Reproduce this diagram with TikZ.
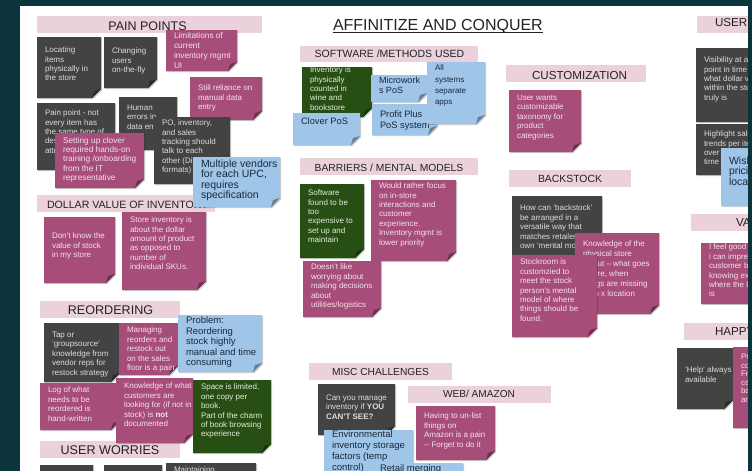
\documentclass[tikz,border=0pt]{standalone}
\usepackage{fontspec}
\setmainfont{Liberation Sans}
\definecolor{bgteal}{HTML}{0C343D}
\definecolor{gnote}{HTML}{434343}
\definecolor{mnote}{HTML}{A64D79}
\definecolor{bnote}{HTML}{9FC5E8}
\definecolor{vnote}{HTML}{274E13}
\definecolor{hpink}{HTML}{EAD1DC}
\definecolor{gtext}{HTML}{DCDCDC}
\definecolor{mtext}{HTML}{F6E2EC}
\definecolor{btext}{HTML}{1C2A3A}
\definecolor{vtext}{HTML}{E4EEDC}
\definecolor{htxt}{HTML}{222222}
\tikzset{
  ntext/.style={inner sep=0pt, outer sep=0pt, align=left, anchor=north west, font=\fontsize{8}{9.4}\selectfont},
  tg/.style={ntext, text=gtext},
  tm/.style={ntext, text=mtext},
  tb/.style={ntext, text=btext},
  tv/.style={ntext, text=vtext},
  f83/.style={font=\fontsize{8.3}{9.4}\selectfont},
  f85l/.style={font=\fontsize{8.3}{10}\selectfont},
  f9/.style={font=\fontsize{9}{10}\selectfont},
  f93/.style={font=\fontsize{9.3}{10.7}\selectfont},
  f95/.style={font=\fontsize{9.5}{10.5}\selectfont},
  f95e/.style={font=\fontsize{9.5}{10.8}\selectfont},
  f105/.style={font=\fontsize{10.5}{10.3}\selectfont},
  fall/.style={font=\fontsize{8}{11.3}\selectfont},
  f8b/.style={font=\fontsize{8}{10}\selectfont},
  f8s/.style={font=\fontsize{8}{8.6}\selectfont},
  hbar/.style={fill=hpink},
  htext/.style={inner sep=0pt, outer sep=0pt, text=htxt},
}
% sticky note: name, colour, x1, y1, x2, y2, text top y, text style, text
\newcommand\snote[9]{%
  \pgfmathsetmacro\nfx{#5-9}%
  \pgfmathsetmacro\nfy{#6-9}%
  \fill[black,opacity=.2] (#3+1.2,#4+1.2) -- (#5+1.2,#4+1.2) -- (#5+1.2,\nfy+1.2) -- (\nfx+1.2,#6+1.2) -- (#3+1.2,#6+1.2) -- cycle;
  \fill[#2] (#3,#4) -- (#5,#4) -- (#5,\nfy) -- (\nfx,#6) -- (#3,#6) -- cycle;
  \fill[#2!65!black] (#5,\nfy) -- (\nfx,#6) -- (\nfx+2,\nfy+2) -- cycle;
  \node[#8] (#1) at (#3+8,#7) {#9};
}
\begin{document}
\begin{tikzpicture}[x=1pt,y=-1pt]
\useasboundingbox (0,0) rectangle (752,471);
\clip (0,0) rectangle (752,471);
\fill[bgteal] (0,0) rectangle (752,471);
\fill[white] (20,6) rectangle (752,471);

% ---------- headings ----------
\fill[hbar] (37,16) rectangle (262,33);
\node[htext, font=\fontsize{12.5}{14}\selectfont, anchor=base] (hpain) at (147.5,30) {PAIN POINTS};
\fill[hbar] (37,195) rectangle (215,212);
\node[htext, font=\fontsize{10.6}{12}\selectfont, anchor=base west] (hdollar) at (47,208) {DOLLAR VALUE OF INVENTORY};
\fill[hbar] (40,301) rectangle (180,318);
\node[htext, font=\fontsize{12.6}{14}\selectfont, anchor=base] (hreorder) at (110.5,314) {REORDERING};
\fill[hbar] (40,441) rectangle (180,458);
\node[htext, font=\fontsize{12.6}{14}\selectfont, anchor=base] (hworries) at (110,454) {USER WORRIES};

\node[htext, font=\fontsize{16}{18}\selectfont, anchor=base west] (title) at (333,30) {AFFINITIZE AND CONQUER};
\draw[htxt, line width=0.9pt] ([yshift=-2.6pt]title.base west) -- ([yshift=-2.6pt]title.base east);

\fill[hbar] (300,46) rectangle (478,62);
\node[htext, font=\fontsize{10.5}{12}\selectfont, anchor=base] (hsoft) at (389.5,57.3) {SOFTWARE /METHODS USED};
\fill[hbar] (300,158) rectangle (478,175);
\node[htext, font=\fontsize{10.3}{12}\selectfont, anchor=base] (hbarr) at (389,171.5) {BARRIERS / MENTAL MODELS};
\fill[hbar] (309,363) rectangle (452,380);
\node[htext, font=\fontsize{10.2}{12}\selectfont, anchor=base] (hmisc) at (380.5,375) {MISC CHALLENGES};
\fill[hbar] (408,386) rectangle (551,403);
\node[htext, font=\fontsize{10.1}{12}\selectfont, anchor=base] (hweb) at (479,397.5) {WEB/ AMAZON};
\fill[hbar] (506,65) rectangle (646,82);
\node[htext, font=\fontsize{11.6}{13}\selectfont, anchor=base] (hcust) at (579.5,79) {CUSTOMIZATION};
\fill[hbar] (509,170) rectangle (631,187);
\node[htext, font=\fontsize{10.4}{12}\selectfont, anchor=base] (hback) at (570,182) {BACKSTOCK};
\fill[hbar] (697,16) rectangle (760,33);
\node[htext, font=\fontsize{11.6}{13}\selectfont, anchor=base west] (huser) at (715,27) {USER NEEDS};
\fill[hbar] (691,214) rectangle (760,231);
\node[htext, font=\fontsize{11.6}{13}\selectfont, anchor=base west] (hval) at (736,226) {VALUES};
\fill[hbar] (684,323) rectangle (760,340);
\node[htext, font=\fontsize{11.6}{13}\selectfont, anchor=base west] (hhappy) at (715,335) {HAPPY};

% ---------- pain points ----------
\snote{locating}{gnote}{37}{37}{101}{98}{47}{tg}{Locating\\items\\physically in\\the store}
\snote{changing}{gnote}{104}{37}{157}{88}{48}{tg}{Changing\\users\\on-the-fly}
\snote{limits}{mnote}{166}{30}{237}{71}{32}{tm,f85l}{Limitations of\\current\\inventory mgmt\\UI}
\snote{reliance}{mnote}{190}{77}{262}{120}{85}{tm}{Still reliance on\\manual data\\entry}
\snote{painpt}{gnote}{37}{103}{115}{170}{110}{tg}{Pain point - not\\every item has\\the same type of\\descriptive\\attributes}
\snote{human}{gnote}{119}{97}{177}{150}{105}{tg}{Human\\errors in\\data entry}
\snote{po}{gnote}{154}{117}{230}{184}{120}{tg}{PO, inventory,\\and sales\\tracking should\\talk to each\\other (Different\\formats)}
\snote{setup}{mnote}{55}{133}{144}{188}{137}{tm,f83}{Setting up clover\\required hands-on\\training /onboarding\\from the IT\\representative}
\snote{vendors}{bnote}{193}{157}{280}{207}{160}{tb,f105}{Multiple vendors\\for each UPC,\\requires\\specification}

% ---------- dollar value ----------
\snote{dontknow}{mnote}{44}{217}{115}{283}{233}{tm}{Don't know the\\value of stock\\in my store}
\snote{storeinv}{mnote}{122}{212}{206}{290}{217}{tm}{Store inventory is\\about the dollar\\amount of product\\as opposed to\\number of\\individual SKUs.}

% ---------- reordering ----------
\snote{tap}{gnote}{44}{323}{120}{382}{332}{tg}{Tap or\\`groupsource'\\knowledge from\\vendor reps for\\restock strategy}
\snote{managing}{mnote}{119}{323}{178}{375}{327}{tm}{Managing\\reorders and\\restock out\\on the sales\\floor is a pain}
\snote{problem}{bnote}{178}{315}{262}{372}{317}{tb,f95}{Problem:\\Reordering\\stock highly\\manual and time\\consuming}
\snote{logw}{mnote}{40}{383}{120}{430}{387}{tm}{Log of what\\needs to be\\reordered is\\hand-written}
\snote{knowwhat}{mnote}{116}{378}{193}{443}{383}{tm}{Knowledge of what\\customers are\\looking for (if not in\\stock) is \textbf{not}\\documented}
\snote{space}{vnote}{193}{380}{271}{453}{384}{tv}{Space is limited,\\one copy per\\book.\\Part of the charm\\of book browsing\\experience}

% ---------- user worries ----------
\snote{uwa}{gnote}{40}{465}{93}{500}{470}{tg}{}
\snote{uwb}{gnote}{104}{465}{162}{500}{470}{tg}{}
\snote{uwc}{gnote}{166}{463}{256}{500}{467}{tg}{Maintaining}

% ---------- software ----------
\snote{counted}{vnote}{302}{67}{372}{117}{67}{tv}{Inventory is\\physically\\counted in\\wine and\\bookstore}
\snote{cloverpos}{bnote}{293}{113}{360}{145}{118}{tb,f93}{Clover PoS}
\snote{microworks}{bnote}{371}{75}{427}{102}{77}{tb,f9}{Microwork\\s PoS}
\snote{profit}{bnote}{372}{104}{437}{135}{111}{tb,f93}{Profit Plus\\PoS system}
\snote{allsys}{bnote}{427}{62}{485}{124}{65}{tb,fall}{All\\systems\\separate\\apps}

% ---------- barriers ----------
\snote{expensive}{vnote}{300}{184}{364}{258}{190}{tv}{Software\\found to be\\too\\expensive to\\set up and\\maintain}
\snote{rather}{mnote}{371}{180}{456}{261}{183}{tm}{Would rather focus\\on in-store\\interactions and\\customer\\experience.\\Inventory mgmt is\\lower priority}
\snote{doesnt}{mnote}{303}{261}{381}{317}{264}{tm}{Doesn't like\\worrying about\\making decisions\\about\\utilities/logistics}

% ---------- misc / web ----------
\snote{cansee}{gnote}{318}{384}{395}{435}{395}{tg}{Can you manage\\inventory if \textbf{YOU}\\\textbf{CAN'T SEE?}}
\snote{environ}{bnote}{324}{430}{413}{500}{431}{tb,f95e}{Environmental\\inventory storage\\factors (temp\\control)}
\snote{retail}{bnote}{372}{463}{463}{500}{465}{tb,f95}{Retail merging}
\snote{unlist}{mnote}{416}{406}{495}{460}{413}{tm}{Having to un-list\\things on\\Amazon is a pain\\-{}- Forget to do it}

% ---------- customization ----------
\snote{taxonomy}{mnote}{509}{90}{581}{152}{95}{tm}{User wants\\customizable\\taxonomy for\\product\\categories}

% ---------- backstock ----------
\snote{howcan}{gnote}{512}{196}{602}{262}{205}{tg}{How can `backstock'\\be arranged in a\\versatile way that\\matches retailer's\\own `mental model'}
\snote{knowphys}{mnote}{575}{233}{659}{314}{241}{tm,f8b}{Knowledge of the\\physical store\\layout -- what goes\\where, when\\things are missing\\from x location}
\snote{stockroom}{mnote}{512}{255}{597}{337}{259}{tm}{Stockroom is\\customzied to\\meet the stock\\person's mental\\model of where\\things should be\\found.}

% ---------- right column ----------
\snote{visib}{gnote}{696}{48}{770}{122}{57}{tg}{Visibility at any\\point in time of\\what dollar value\\within the store\\truly is}
\snote{highlight}{gnote}{696}{124}{770}{175}{131}{tg}{Highlight sales\\trends per item\\over\\time}
\snote{wish}{bnote}{721}{148}{770}{206}{157}{tb,f105}{Wish\\pricing\\location}
\snote{feelgood}{mnote}{701}{243}{770}{304}{244}{tm}{I feel good when\\i can impress a\\customer by\\knowing exactly\\where the book\\is}
\snote{helpav}{gnote}{677}{348}{733}{409}{367}{tg}{`Help' always\\available}
\snote{pomag}{mnote}{733}{347}{790}{428}{354}{tm,f8s}{PO\\co\\Fr\\ca\\ba\\an}

\fill[bgteal] (748,0) rectangle (752,471);
\end{tikzpicture}
\end{document}
